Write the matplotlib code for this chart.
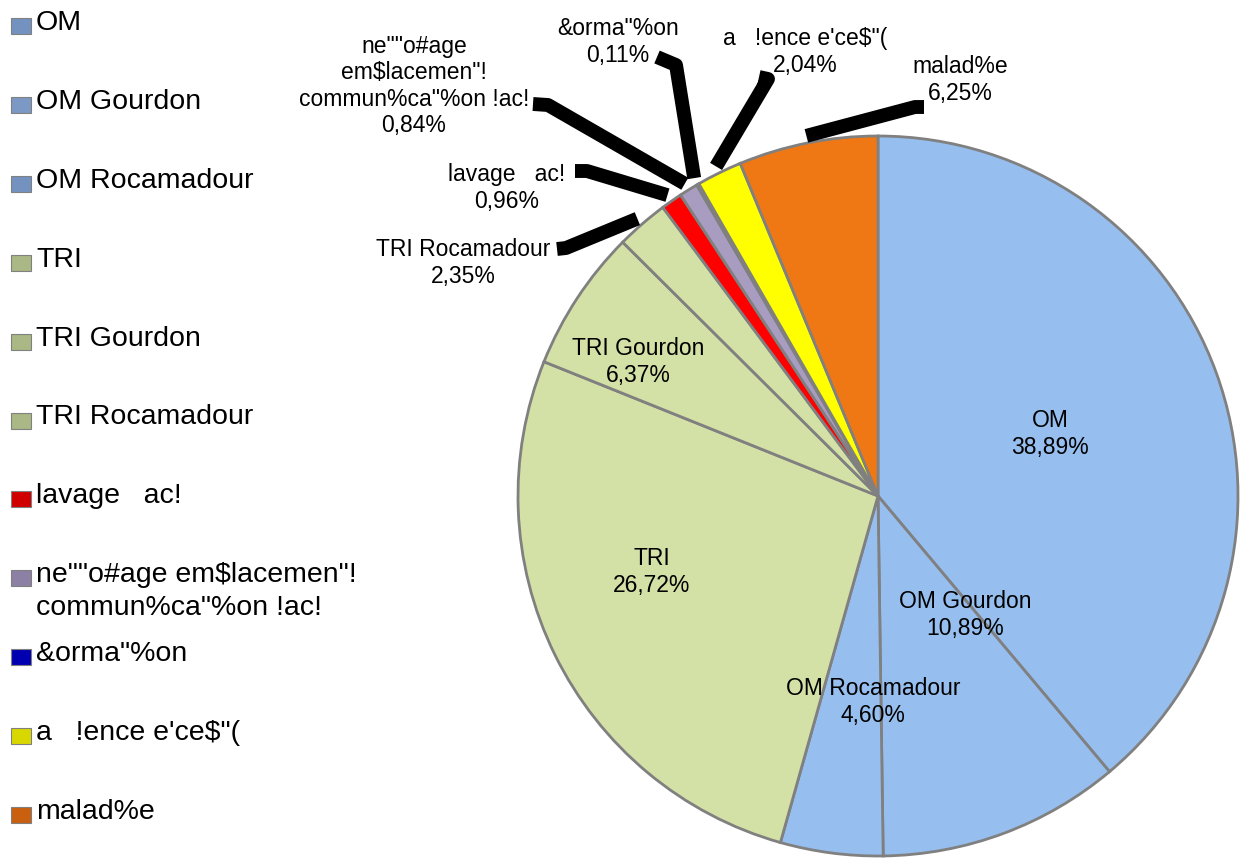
import numpy as np
import matplotlib.pyplot as plt
from matplotlib.patches import Rectangle

plt.rcParams['font.family'] = ['Liberation Sans', 'DejaVu Sans']

# donnees du camembert
labels = ["OM", "OM Gourdon", "OM Rocamadour", "TRI", "TRI Gourdon", "TRI Rocamadour",
          "lavage   ac!", "ne\"\"o#age em$lacemen\"!\ncommun%ca\"%on !ac!",
          "&orma\"%on", "a   !ence e'ce$\"(", "malad%e"]
pie_labels = ["OM", "OM Gourdon", "OM Rocamadour", "TRI", "TRI Gourdon", "TRI Rocamadour",
              "lavage   ac!", "ne\"\"o#age\nem$lacemen\"!\ncommun%ca\"%on !ac!",
              "&orma\"%on", "a   !ence e'ce$\"(", "malad%e"]
values = [38.89, 10.89, 4.60, 26.72, 6.37, 2.35, 0.96, 0.84, 0.11, 2.04, 6.25]
colors = ['#96BEEE', '#96BEEE', '#96BEEE', '#D3E0A6', '#D3E0A6', '#D3E0A6',
          '#FF0000', '#A89CC0', '#0000CC', '#FFFF00', '#F07814']
legend_colors = ['#7392C0', '#7C98C4', '#7392C0', '#A9B884', '#A9B884', '#A9B884',
                 '#D00000', '#8C80A4', '#0000B0', '#D8D800', '#C86010']

# positions des etiquettes (pixels de l'image)
inside_pos = {0: (1050, 434), 1: (965, 615), 2: (873, 702), 3: (652, 572), 4: (638, 362)}
outside_pos = {
    5: ((463, 263), [(566, 249), (557, 250)]),
    6: ((507, 188), [(587, 172), (575, 172)]),
    7: ((414, 86), [(548, 106), (533, 105)]),
    8: ((618, 42), [(676, 66), (657, 58)]),
    9: ((805, 52), [(768, 80), (759, 78)]),
    10: ((960, 80), [(915, 108), (924, 108)]),
}

W, H = 1253, 862
cx, cy, R = 878, 497, 360

fig = plt.figure(figsize=(W / 100, H / 100), dpi=100)
ax = fig.add_axes([0, 0, 1, 1])

wedges, _ = ax.pie(values, colors=colors, startangle=-90, counterclock=True,
                   center=(cx, cy), radius=R,
                   wedgeprops=dict(edgecolor='#808080', linewidth=2))
ax.set_xlim(0, W)
ax.set_ylim(H, 0)
ax.axis('off')

def pct(v):
    return f"{v:.2f}".replace('.', ',') + '%'

for i, w in enumerate(wedges):
    txt = pie_labels[i] + '\n' + pct(values[i])
    if i in inside_pos:
        x, y = inside_pos[i]
        ax.text(x, y, txt, ha='center', va='center', fontsize=16.5,
                linespacing=1.25, multialignment='center')
    else:
        (tx, ty), pts = outside_pos[i]
        ang = np.deg2rad((w.theta1 + w.theta2) / 2)
        sx = cx + 1.02 * R * np.cos(ang)
        sy = cy + 1.02 * R * np.sin(ang)
        xs = [sx] + [p[0] for p in pts]
        ys = [sy] + [p[1] for p in pts]
        ax.plot(xs, ys, color='black', linewidth=10, solid_capstyle='butt',
                solid_joinstyle='round', zorder=5)
        ax.text(tx, ty, txt, ha='center', va='center', fontsize=16.5,
                linespacing=1.2, multialignment='center')

# legende
for i, lbl in enumerate(labels):
    y = 23 + i * 78.9
    ax.add_patch(Rectangle((11, y - 4), 20, 16, facecolor=legend_colors[i],
                           edgecolor='#808080', linewidth=0.8))
    for j, line in enumerate(lbl.split('\n')):
        ax.text(36, y + j * 33, line, ha='left', va='center', fontsize=20.5)

fig.savefig('out.png', dpi=100)
